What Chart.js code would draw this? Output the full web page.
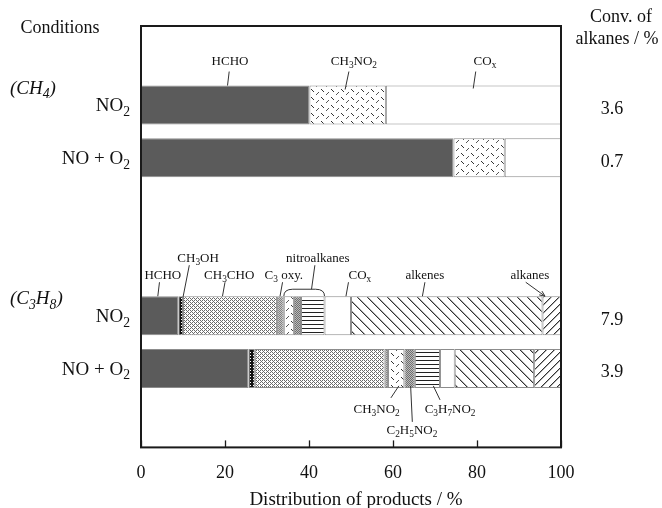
<!DOCTYPE html>
<html><head><meta charset="utf-8">
<script src="https://cdn.jsdelivr.net/npm/chart.js@4.4.0/dist/chart.umd.min.js"></script>
<style>html,body{margin:0;padding:0;background:#fff;}#wrap{width:662px;height:508px;}</style>
</head><body><div id="wrap"><canvas id="c" width="662" height="508"></canvas></div>
<script>
// ---- data ----
const categories = ['', 'NO_2', 'NO + O_2', '', '', 'NO_2', 'NO + O_2', ''];
const groups = [{row: 1, text: '(CH_4)'}, {row: 5, text: '(C_3H_8)'}];
const conversion = [null, 3.6, 0.7, null, null, 7.9, 3.9, null];
const HCHO     = [null, 40.1, 74.4, null, null, 8.9, 25.6, null];
const CH3OH    = [null, null, null, null, null, 1.1, 1.5, null];
const CH3CHO   = [null, null, null, null, null, 22.4, 30.9, null];
const C3oxy    = [null, null, null, null, null, 1.6, 0.8, null];
const CH3NO2   = [null, 18.2, 12.2, null, null, 2.4, 3.9, null];
const C2H5NO2  = [null, null, null, null, null, 1.7, 2.5, null];
const C3H7NO2  = [null, null, null, null, null, 5.6, 6.0, null];
const COx      = [null, 41.7, 13.4, null, null, 6.3, 3.5, null];
const alkenes  = [null, null, null, null, null, 45.6, 18.9, null];
const alkanes  = [null, null, null, null, null, 4.4, 6.4, null];
const xTicks = [0, 20, 40, 60, 80, 100];
const xTitle = 'Distribution of products / %';

// ---- styling ----
const FAM = '"Liberation Serif", "Times New Roman", serif';
const cv = document.getElementById('c');
const cx0 = cv.getContext('2d');
function pat(w, h, bg, draw) {
  const c = document.createElement('canvas'); c.width = w; c.height = h;
  const g = c.getContext('2d'); g.fillStyle = bg; g.fillRect(0, 0, w, h); draw(g);
  return cx0.createPattern(c, 'repeat');
}
function px(g, col, pts) { g.fillStyle = col; pts.forEach(p => g.fillRect(p[0], p[1], 1, 1)); }
const fills = {
  HCHO: '#5b5b5b',
  CH3OH: pat(3, 3, '#111', g => px(g, '#fff', [[1, 1]])),
  CH3CHO: pat(4, 4, '#fff', g => px(g, '#6a6a6a', [[0,0],[1,1],[2,0],[2,2],[3,3],[0,2]])),
  C3oxy: pat(2, 2, '#c8c8c8', g => px(g, '#808080', [[0,0],[1,1]])),
  CH3NO2: pat(10, 8, '#fff', g => { px(g, '#333', [[1,1],[2,2],[3,3]]); px(g, '#555', [[8,4],[7,5],[6,6]]); }),
  C2H5NO2: pat(2, 2, '#bdbdbd', g => px(g, '#707070', [[0,0],[1,1]])),
  C3H7NO2: pat(2, 4, '#fff', g => px(g, '#222', [[0,0],[1,0]])),
  COx: '#ffffff',
  alkenes: pat(10, 10, '#fff', g => { px(g, '#333', [...Array(10).keys()].map(i => [i, i])); px(g, '#aaa', [...Array(10).keys()].map(i => [(i + 1) % 10, i])); }),
  alkanes: pat(8, 8, '#fff', g => { px(g, '#333', [...Array(8).keys()].map(i => [7 - i, i])); px(g, '#aaa', [...Array(8).keys()].map(i => [(8 - i) % 8, i])); })
};
const series = [
  ['HCHO', HCHO], ['CH3OH', CH3OH], ['CH3CHO', CH3CHO], ['C3oxy', C3oxy], ['CH3NO2', CH3NO2],
  ['C2H5NO2', C2H5NO2], ['C3H7NO2', C3H7NO2], ['COx', COx], ['alkenes', alkenes], ['alkanes', alkanes]
];

// callouts: label pos (x in %, y offset px from bar edge), leader line from (x1,y1) to (x2,y2)
const callouts = [
  {row:1, edge:'top', text:'HCHO',    lx:21.2, ly:-25, x1:21.0, y1:-14, x2:20.6, y2:0},
  {row:1, edge:'top', text:'CH_3NO_2', lx:50.7, ly:-25, x1:49.5, y1:-14, x2:48.6, y2:4},
  {row:1, edge:'top', text:'CO_x',    lx:81.9, ly:-25, x1:79.7, y1:-14, x2:79.1, y2:3},
  {row:5, edge:'top', text:'CH_3OH',  lx:13.6, ly:-39, x1:11.5, y1:-31, x2:10.0, y2:1},
  {row:5, edge:'top', text:'HCHO',    lx:5.2,  ly:-22, x1:4.4,  y1:-14, x2:4.0,  y2:0},
  {row:5, edge:'top', text:'CH_3CHO', lx:21.0, ly:-22, x1:20.0, y1:-14, x2:19.4, y2:0},
  {row:5, edge:'top', text:'C_3 oxy.', lx:34.0, ly:-22, x1:33.7, y1:-14, x2:33.1, y2:0},
  {row:5, edge:'top', text:'nitroalkanes', lx:42.1, ly:-39, x1:41.4, y1:-31, x2:40.6, y2:-7},
  {row:5, edge:'top', text:'CO_x',    lx:52.1, ly:-22, x1:49.4, y1:-14, x2:48.8, y2:0},
  {row:5, edge:'top', text:'alkenes', lx:67.6, ly:-22, x1:67.6, y1:-14, x2:67.0, y2:0},
  {row:5, edge:'top', text:'alkanes', lx:92.6, ly:-22, x1:91.6, y1:-14, x2:96.2, y2:0, arrow:true},
  {row:6, edge:'bottom', text:'CH_3NO_2',  lx:56.1, ly:21, x1:59.5, y1:10, x2:61.4, y2:-2},
  {row:6, edge:'bottom', text:'C_2H_5NO_2', lx:64.5, ly:42, x1:64.6, y1:34, x2:64.2, y2:-2},
  {row:6, edge:'bottom', text:'C_3H_7NO_2', lx:73.6, ly:21, x1:71.2, y1:12, x2:69.6, y2:-2}
];
// bracket over nitroalkanes (row 5) spanning CH3NO2..C3H7NO2
const bracket = {row: 5, from: 'CH3NO2', to: 'C3H7NO2', rise: 7};

function chemDraw(ctx, s, x, yc, size, align, italic) {
  const f = sz => (italic ? 'italic ' : '') + sz + 'px ' + FAM;
  const parts = []; let i = 0;
  while (i < s.length) {
    if (s[i] === '_') { parts.push({t: s[i + 1], sub: true}); i += 2; }
    else { let j = i; while (j < s.length && s[j] !== '_') j++; parts.push({t: s.slice(i, j), sub: false}); i = j; }
  }
  let w = 0;
  parts.forEach(p => { ctx.font = f(p.sub ? size * 0.72 : size); p.w = ctx.measureText(p.t).width; w += p.w; });
  let cx = align === 'center' ? x - w / 2 : align === 'right' ? x - w : x;
  const base = yc + size * 0.33;
  ctx.textAlign = 'left'; ctx.textBaseline = 'alphabetic';
  parts.forEach(p => { ctx.font = f(p.sub ? size * 0.72 : size); ctx.fillText(p.t, cx, base + (p.sub ? size * 0.24 : 0)); cx += p.w; });
}

const overlay = {
  id: 'overlay',
  afterDraw(chart) {
    const ctx = chart.ctx, xs = chart.scales.x, a = chart.chartArea;
    const bar = r => chart.getDatasetMeta(0).data[r];
    ctx.save();
    // frame
    ctx.strokeStyle = '#1a1a1a'; ctx.lineWidth = 2;
    ctx.strokeRect(a.left, a.top, a.right - a.left, a.bottom - a.top);
    // inward ticks
    ctx.lineWidth = 1.3;
    xTicks.forEach(v => { const X = Math.round(xs.getPixelForValue(v)) + 0.5; ctx.beginPath(); ctx.moveTo(X, a.bottom); ctx.lineTo(X, a.bottom - 7); ctx.stroke(); });
    ctx.fillStyle = '#111';
    // header texts + axis title
    chemDraw(ctx, 'Conditions', 60, 27, 18, 'center');
    chemDraw(ctx, 'Conv. of', 621, 16, 18, 'center');
    chemDraw(ctx, 'alkanes / %', 617, 38, 18, 'center');
    chemDraw(ctx, xTitle, (a.left + a.right) / 2 + 5, 499, 19, 'center');
    // condition labels & conversions
    categories.forEach((c, r) => {
      if (!c) return;
      const b = bar(r);
      chemDraw(ctx, c, a.left - 11, b.y, 19, 'right');
      chemDraw(ctx, String(conversion[r]), a.right + 51, b.y + 3, 18, 'center');
    });
    groups.forEach(gp => { const b = bar(gp.row); chemDraw(ctx, gp.text, 10, b.y - b.height / 2 + 2, 19, 'left', true); });
    // callouts
    ctx.strokeStyle = '#333'; ctx.lineWidth = 1;
    callouts.forEach(c => {
      const b = bar(c.row);
      const edge = c.edge === 'top' ? b.y - b.height / 2 : b.y + b.height / 2;
      const X1 = xs.getPixelForValue(c.x1), Y1 = edge + c.y1, X2 = xs.getPixelForValue(c.x2), Y2 = edge + c.y2;
      ctx.beginPath(); ctx.moveTo(X1, Y1); ctx.lineTo(X2, Y2); ctx.stroke();
      if (c.arrow) {
        const ang = Math.atan2(Y2 - Y1, X2 - X1);
        ctx.beginPath();
        ctx.moveTo(X2 - 6 * Math.cos(ang - 0.4), Y2 - 6 * Math.sin(ang - 0.4));
        ctx.lineTo(X2, Y2);
        ctx.lineTo(X2 - 6 * Math.cos(ang + 0.4), Y2 - 6 * Math.sin(ang + 0.4));
        ctx.stroke();
      }
      ctx.fillStyle = '#111';
      chemDraw(ctx, c.text, xs.getPixelForValue(c.lx), edge + c.ly, 13, 'center');
    });
    // bracket
    const names = series.map(s => s[0]);
    const cum = k => series.slice(0, k).reduce((t, s) => t + (s[1][bracket.row] || 0), 0);
    const L = xs.getPixelForValue(cum(names.indexOf(bracket.from)));
    const R = xs.getPixelForValue(cum(names.indexOf(bracket.to) + 1));
    const bb = bar(bracket.row), top = bb.y - bb.height / 2, T = top - bracket.rise, rr = 6;
    ctx.beginPath();
    ctx.moveTo(L, top);
    ctx.quadraticCurveTo(L, T, L + rr * 1.5, T);
    ctx.lineTo(R - rr * 1.5, T);
    ctx.quadraticCurveTo(R, T, R, top);
    ctx.stroke();
    ctx.restore();
  }
};

new Chart(cv, {
  type: 'bar',
  data: {
    labels: categories,
    datasets: series.map(([name, vals]) => ({
      label: name, data: vals, backgroundColor: fills[name],
      borderColor: '#8c8c8c', borderWidth: 1, borderSkipped: false,
      categoryPercentage: 1, barPercentage: 0.74
    }))
  },
  options: {
    responsive: false, animation: false, indexAxis: 'y',
    layout: {padding: {left: 141, right: 101, top: 26, bottom: 9}},
    plugins: {legend: {display: false}, tooltip: {enabled: false}},
    scales: {
      x: {
        stacked: true, min: 0, max: 100,
        afterBuildTicks: s => { s.ticks = xTicks.map(v => ({value: v})); },
        ticks: {font: {family: FAM, size: 18}, color: '#111', padding: 15, maxRotation: 0},
        grid: {display: false, drawTicks: false}, border: {display: false}
      },
      y: {stacked: true, display: false}
    }
  },
  plugins: [overlay]
});
</script></body></html>
